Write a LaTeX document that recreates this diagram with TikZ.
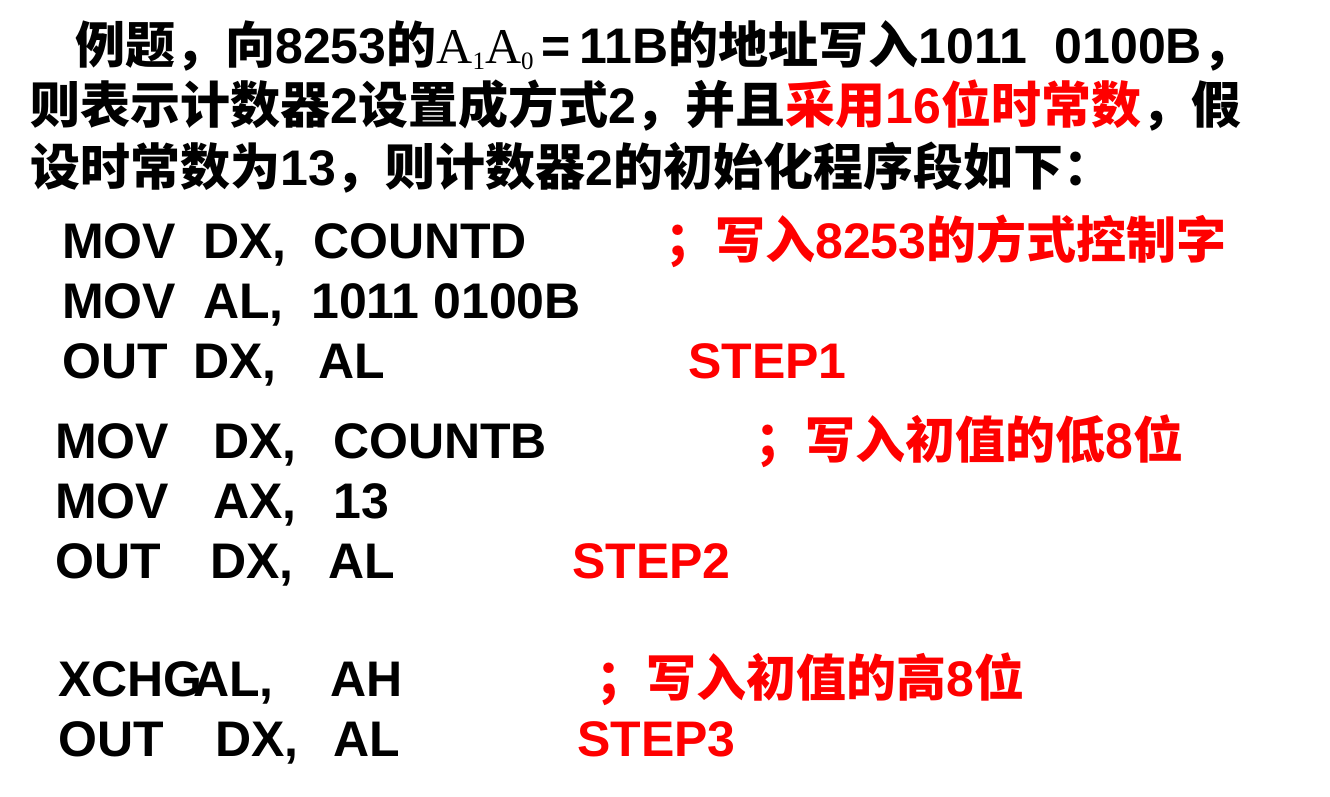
\documentclass[tikz,border=0pt]{standalone}
\usepackage{fontspec}
\setmainfont{Liberation Sans}
\newfontfamily\zh{Noto Sans CJK SC Bold}
\newfontfamily\tm{Liberation Serif}
\definecolor{rd}{RGB}{255,0,0}
\begin{document}
\begin{tikzpicture}[x=1pt,y=-1pt,
  t/.style={anchor=base west,inner sep=0pt,font=\fontsize{50}{56}\selectfont\bfseries},
  r/.style={t,text=rd}]
\useasboundingbox (0,0) rectangle (1330,797);
\fill[white] (0,0) rectangle (1330,797);
\node[t] (l1) at (75,64) {{\zh 例题，向}8253{\zh 的}{\mdseries\tm A\raisebox{-0.25ex}{\fontsize{25}{27}\selectfont 1}A\raisebox{-0.25ex}{\fontsize{25}{27}\selectfont 0}}\,=\,11B{\zh 的地址写入}1011\ \ 0100B{\zh ，}};
\node[t] (l2) at (30,124) {{\zh 则表示计数器}2{\zh 设置成方式}2{\zh ，并且}\textcolor{rd}{{\zh 采用}16{\zh 位时常数}}{\zh ，假}};
\node[t] (l3) at (30,185) {{\zh 设时常数为}13{\zh ，则计数器}2{\zh 的初始化程序段如下：}};
% block 1
\node[t] (a1) at (62,258) {MOV}; \node[t] (a2) at (203,258) {DX,}; \node[t] (a3) at (313,258) {COUNTD};
\node[r] (a4) at (665,258) {{\zh ；写入}8253{\zh 的方式控制字}};
\node[t] (b1) at (62,318) {MOV}; \node[t] (b2) at (203,318) {AL,}; \node[t] (b3) at (311,318) {1011 0100B};
\node[t] (c1) at (62,378) {OUT}; \node[t] (c2) at (193,378) {DX,}; \node[t] (c3) at (318,378) {AL};
\node[r] (c4) at (688,378) {STEP1};
% block 2
\node[t] (d1) at (55,458) {MOV}; \node[t] (d2) at (213,458) {DX,}; \node[t] (d3) at (333,458) {COUNTB};
\node[r] (d4) at (755,458) {{\zh ；写入初值的低}8{\zh 位}};
\node[t] (e1) at (55,518) {MOV}; \node[t] (e2) at (213,518) {AX,}; \node[t] (e3) at (333,518) {13};
\node[t] (f1) at (55,578) {OUT}; \node[t] (f2) at (210,578) {DX,}; \node[t] (f3) at (328,578) {AL};
\node[r] (f4) at (572,578) {STEP2};
% block 3
\node[t] (g1) at (58,696) {XCHG}; \node[t] (g2) at (193,696) {AL,}; \node[t] (g3) at (330,696) {AH};
\node[r] (g4) at (596,696) {{\zh ；写入初值的高}8{\zh 位}};
\node[t] (h1) at (58,756) {OUT}; \node[t] (h2) at (215,756) {DX,}; \node[t] (h3) at (333,756) {AL};
\node[r] (h4) at (577,756) {STEP3};
\end{tikzpicture}
\end{document}
